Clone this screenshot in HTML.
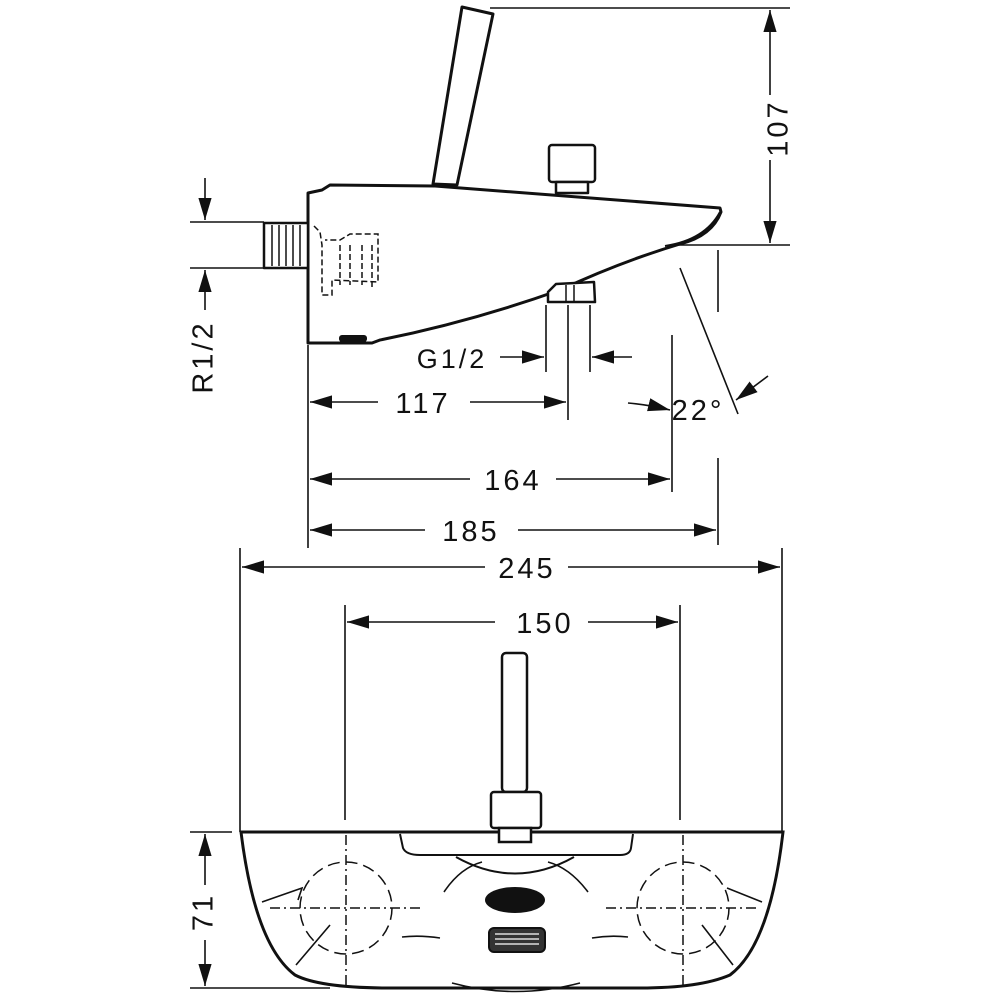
<!DOCTYPE html>
<html><head><meta charset="utf-8"><style>
html,body{margin:0;padding:0;background:#fff}
svg{display:block}
text{font-family:"Liberation Sans",sans-serif;font-size:29px;fill:#111;letter-spacing:3px}
</style></head><body>
<svg width="1000" height="1000" viewBox="0 0 1000 1000" xmlns="http://www.w3.org/2000/svg">
<defs>
<marker id="b" viewBox="0 0 10 10" refX="10" refY="5" markerWidth="22" markerHeight="22" markerUnits="userSpaceOnUse" orient="auto-start-reverse"><path d="M0,2L10,5L0,8z" fill="#111"/></marker>
</defs>
<g stroke="#111" fill="none" stroke-width="1.6">
<line x1="490" y1="8" x2="790" y2="8"/>
<line x1="310" y1="245" x2="790" y2="245"/>
<line x1="190" y1="222" x2="264" y2="222"/>
<line x1="190" y1="268" x2="264" y2="268"/>
<line x1="308" y1="345" x2="308" y2="548"/>
<line x1="546" y1="305" x2="546" y2="372"/>
<line x1="568" y1="305" x2="568" y2="420"/>
<line x1="590" y1="305" x2="590" y2="372"/>
<line x1="672" y1="335" x2="672" y2="492"/>
<line x1="718" y1="250" x2="718" y2="312"/>
<line x1="718" y1="458" x2="718" y2="545"/>
<line x1="680" y1="268" x2="738" y2="414"/>
<line x1="770" y1="10" x2="770" y2="95" marker-start="url(#b)"/>
<line x1="770" y1="160" x2="770" y2="243" marker-end="url(#b)"/>
<line x1="205" y1="178" x2="205" y2="220" marker-end="url(#b)"/>
<line x1="205" y1="310" x2="205" y2="270" marker-end="url(#b)"/>
<line x1="500" y1="357" x2="544" y2="357" marker-end="url(#b)"/>
<line x1="632" y1="357" x2="592" y2="357" marker-end="url(#b)"/>
<line x1="310" y1="402" x2="378" y2="402" marker-start="url(#b)"/>
<line x1="470" y1="402" x2="566" y2="402" marker-end="url(#b)"/>
<path d="M628,403 Q650,405 670,410" marker-end="url(#b)"/>
<path d="M768,376 Q752,388 736,400" marker-end="url(#b)"/>
<line x1="310" y1="479" x2="470" y2="479" marker-start="url(#b)"/>
<line x1="556" y1="479" x2="670" y2="479" marker-end="url(#b)"/>
<line x1="310" y1="530" x2="425" y2="530" marker-start="url(#b)"/>
<line x1="518" y1="530" x2="716" y2="530" marker-end="url(#b)"/>
<line x1="240" y1="548" x2="240" y2="832"/>
<line x1="782" y1="548" x2="782" y2="832"/>
<line x1="242" y1="567" x2="485" y2="567" marker-start="url(#b)"/>
<line x1="568" y1="567" x2="780" y2="567" marker-end="url(#b)"/>
<line x1="345" y1="605" x2="345" y2="820"/>
<line x1="680" y1="605" x2="680" y2="820"/>
<line x1="347" y1="622" x2="495" y2="622" marker-start="url(#b)"/>
<line x1="588" y1="622" x2="678" y2="622" marker-end="url(#b)"/>
<line x1="190" y1="832" x2="232" y2="832"/>
<line x1="190" y1="988" x2="330" y2="988"/>
<line x1="205" y1="834" x2="205" y2="885" marker-start="url(#b)"/>
<line x1="205" y1="940" x2="205" y2="986" marker-end="url(#b)"/>
</g>
<g stroke="#111" fill="none" stroke-width="3" stroke-linejoin="round">
<path d="M462,7 L493,14 L457,185 L433,184 Z" fill="#fff"/>
<path d="M308,343 L308,193 L322,190 L330,185 L435,186 L720,208 L721,212 Q712,236 680,244 Q620,262 560,290 Q470,322 380,340 L372,343 Z" fill="#fff"/>
<path d="M720,212 Q705,240 665,246" stroke-width="2"/>
<rect x="264" y="223" width="44" height="45" fill="#fff" stroke-width="2.5"/>
<rect x="549" y="145" width="46" height="37" rx="3" fill="#fff" stroke-width="2.5"/>
<rect x="556" y="182" width="32" height="11" fill="#fff" stroke-width="2.5"/>
<path d="M548,292 L556,284 L594,282 L595,302 L548,302 Z" fill="#fff" stroke-width="2.5"/>
</g>
<g stroke="#111" stroke-width="1.5">
<line x1="272" y1="225" x2="272" y2="266"/><line x1="279" y1="225" x2="279" y2="266"/><line x1="286" y1="225" x2="286" y2="266"/><line x1="293" y1="225" x2="293" y2="266"/><line x1="300" y1="225" x2="300" y2="266"/>
<line x1="566" y1="285" x2="566" y2="302"/><line x1="574" y1="285" x2="574" y2="302"/>
</g>
<rect x="339" y="335" width="28" height="7" rx="3" fill="#111"/>
<g stroke="#111" fill="none" stroke-width="1.5" stroke-dasharray="6,3">
<path d="M314,226 L320,232 L322,245 L322,295 L332,295 L332,280 L378,282 L378,234 L350,234 L340,240 L325,240"/>
<path d="M340,245 L340,285 M350,245 L350,285 M362,245 L362,285 M372,245 L372,290"/>
</g>
<g stroke="#111" fill="none" stroke-width="1.5" stroke-dasharray="10,4,2,4">
<line x1="346" y1="835" x2="346" y2="985"/>
<line x1="683" y1="835" x2="683" y2="985"/>
<line x1="270" y1="908" x2="422" y2="908"/>
<line x1="606" y1="908" x2="760" y2="908"/>
</g>
<g stroke="#111" fill="none" stroke-width="1.5" stroke-dasharray="12,6">
<circle cx="346" cy="908" r="46"/><circle cx="683" cy="908" r="46"/>
</g>
<g stroke="#111" fill="none" stroke-width="3">
<path d="M241,832 L783,832 Q770,945 730,975 Q700,988 640,988 L390,988 Q320,988 295,975 Q255,945 241,832 Z"/>
<path d="M400,834 L403,848 Q406,855 420,855 L620,855 Q630,855 631,848 L633,834" stroke-width="2"/>
<path d="M456,857 Q515,890 574,857" stroke-width="2"/>
<rect x="502" y="653" width="25" height="139" rx="4" fill="#fff" stroke-width="2.5"/>
<rect x="491" y="792" width="50" height="36" rx="3" fill="#fff" stroke-width="2.5"/>
<rect x="499" y="828" width="32" height="14" fill="#fff" stroke-width="2.5"/>
</g>
<g stroke="#111" fill="none" stroke-width="1.6">
<path d="M444,892 Q460,868 482,862 M548,862 Q570,868 588,892"/>
<path d="M402,937 Q420,935 440,938 M592,938 Q610,935 628,937"/>
<path d="M452,983 Q515,1000 580,983"/>
<path d="M262,902 L302,888 L298,900 M762,902 L727,888"/>
<path d="M296,965 L330,925 M733,965 L702,925"/>
</g>
<ellipse cx="515" cy="900" rx="30" ry="13" fill="#111"/>
<rect x="489" y="928" width="56" height="24" rx="5" fill="#333" stroke="#111" stroke-width="2"/>
<g stroke="#fff" stroke-width="1.2"><line x1="495" y1="934" x2="539" y2="934"/><line x1="495" y1="939" x2="539" y2="939"/><line x1="495" y1="944" x2="539" y2="944"/></g>
<text x="780" y="128" transform="rotate(-90 780 128)" text-anchor="middle" dominant-baseline="middle">107</text>
<text x="205" y="357" transform="rotate(-90 205 357)" text-anchor="middle" dominant-baseline="middle">R1/2</text>
<text x="452" y="368" text-anchor="middle" style="font-size:27px">G1/2</text>
<text x="423" y="413" text-anchor="middle">117</text>
<text x="698" y="420" text-anchor="middle">22°</text>
<text x="513" y="490" text-anchor="middle">164</text>
<text x="471" y="541" text-anchor="middle">185</text>
<text x="527" y="578" text-anchor="middle">245</text>
<text x="545" y="633" text-anchor="middle">150</text>
<text x="205" y="912" transform="rotate(-90 205 912)" text-anchor="middle" dominant-baseline="middle">71</text>
</svg>
</body></html>
